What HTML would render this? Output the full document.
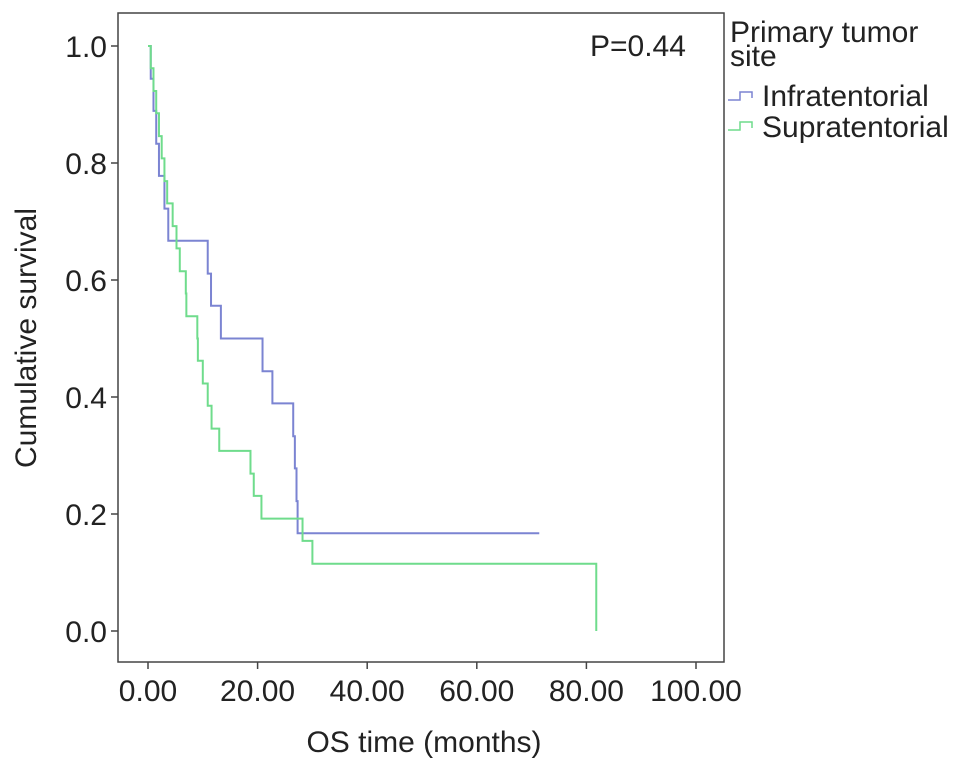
<!DOCTYPE html>
<html><head><meta charset="utf-8"><style>
body{margin:0;background:#fff;}
svg{display:block;font-family:"Liberation Sans",Arial,sans-serif;}
</style></head><body>
<svg id="chart" width="969" height="769">
  <rect x="118" y="13" width="606" height="649" fill="#fff" stroke="#444" stroke-width="1.5"/>
  <g id="axes"></g>
  <g id="series"></g>
  <text x="590" y="56" font-size="30" fill="#222">P=0.44</text>
  <text x="424" y="752" font-size="30" fill="#222" text-anchor="middle">OS time (months)</text>
  <text transform="translate(36,338) rotate(-90)" font-size="30" fill="#222" text-anchor="middle">Cumulative survival</text>
  <g>
    <text x="730" y="42" font-size="30" fill="#222">Primary tumor</text>
    <text x="730" y="66" font-size="30" fill="#222">site</text>
    <path d="M728,100 H740 V92 H752 V98" fill="none" stroke="#7b84d2" stroke-width="1.5"/>
    <text x="762" y="106" font-size="30" fill="#222">Infratentorial</text>
    <path d="M728,130 H740 V122 H752 V128" fill="none" stroke="#6fdc8c" stroke-width="1.5"/>
    <text x="762" y="137" font-size="30" fill="#222">Supratentorial</text>
  </g>
</svg>
<script>
const xTicks=[0,20,40,60,80,100];
const xTickLabels=["0.00","20.00","40.00","60.00","80.00","100.00"];
const yTicks=[0,0.2,0.4,0.6,0.8,1.0];
const yTickLabels=["0.0","0.2","0.4","0.6","0.8","1.0"];
const infraTimes=[0,0.5,1,1.5,2,3,3.7,10.9,11.5,13.3,20.9,22.7,26.5,26.8,27.1,27.3];
const infraSurv=[1,0.944,0.889,0.833,0.778,0.722,0.667,0.611,0.556,0.5,0.444,0.389,0.333,0.278,0.222,0.167];
const infraEnd=71.4;
const supraTimes=[0,0.5,1,1.5,2,2.5,3,3.5,4.5,5.2,5.8,6.9,7.0,9.0,9.1,10.0,10.9,11.6,13.0,18.7,19.3,20.7,28.2,30.0,81.8];
const supraSurv=[1,0.962,0.923,0.885,0.846,0.808,0.769,0.731,0.692,0.654,0.615,0.577,0.538,0.5,0.462,0.423,0.385,0.346,0.308,0.269,0.231,0.192,0.154,0.115,0];
const supraEnd=81.8;
const X=t=>148+t*5.48;
const Y=s=>631-s*585;
const NS="http://www.w3.org/2000/svg";
const axes=document.getElementById('axes');
function mk(tag,attrs,parent){const e=document.createElementNS(NS,tag);for(const k in attrs)e.setAttribute(k,attrs[k]);parent.appendChild(e);return e;}
xTicks.forEach((v,i)=>{
  const l=mk('line',{x1:X(v),x2:X(v),y1:662,y2:669,stroke:'#444','stroke-width':1.5},axes);
  
  
  const t=mk('text',{x:X(v),y:701,'font-size':30,fill:'#222','text-anchor':'middle'},axes);
  t.textContent=xTickLabels[i];
  
  
});
yTicks.forEach((v,i)=>{
  const l=mk('line',{x1:111,x2:118,y1:Y(v),y2:Y(v),stroke:'#444','stroke-width':1.5},axes);
  
  
  const t=mk('text',{x:107,y:Y(v)+11,'font-size':30,fill:'#222','text-anchor':'end'},axes);
  t.textContent=yTickLabels[i];
  
  
});
function stepPath(times,surv,end){
  let d='M'+X(times[0])+','+Y(surv[0]);
  for(let i=1;i<times.length;i++){d+=' H'+X(times[i])+' V'+Y(surv[i]);}
  d+=' H'+X(end);
  return d;
}
const series=document.getElementById('series');
const pi=mk('path',{d:stepPath(infraTimes,infraSurv,infraEnd),fill:'none',stroke:'#7b84d2','stroke-width':2},series);


const ps=mk('path',{d:stepPath(supraTimes,supraSurv,supraEnd),fill:'none',stroke:'#6fdc8c','stroke-width':2},series);


</script>
</body></html>
